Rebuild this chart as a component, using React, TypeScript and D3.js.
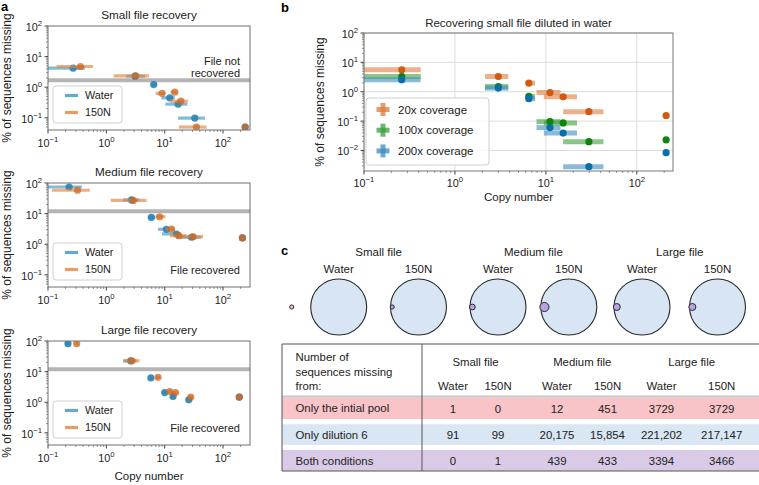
import React from 'react';
import * as d3 from 'd3';

const FONT = '"Liberation Sans", Arial, Helvetica, sans-serif';

// ---------- Panel a data ----------
const aTitles = ['Small file recovery', 'Medium file recovery', 'Large file recovery'];
const aThresholds = [1.7, 12, 12];
const aNotes = [['File not', 'recovered'], ['File recovered'], ['File recovered']];
const aLegend = ['Water', '150N'];

const smallWaterX = [0.27, 3.1, 6.5, 12.2, 17, 32.8, 240];
const smallWaterLo = [0.05, 2.2, 5.9, 8.8, 10.3, 17, 228];
const smallWaterHi = [0.43, 4.6, 7.3, 14.9, 24.5, 49, 252];
const smallWaterY = [4.2, 2.3, 1.22, 0.45, 0.28, 0.098, 0.05];
const smallSaltX = [0.36, 3.2, 9.0, 14.9, 18.9, 35, 240];
const smallSaltLo = [0.14, 1.34, 7.0, 12.6, 12.6, 17.5, 228];
const smallSaltHi = [0.59, 5.4, 10.3, 16.5, 25, 52, 252];
const smallSaltY = [4.75, 2.35, 0.63, 0.69, 0.35, 0.05, 0.05];

const medWaterX = [0.23, 2.7, 5.9, 10.7, 15.9, 28.8, 215];
const medWaterLo = [0.05, 1.93, 5.2, 7.7, 9.0, 15.8, 205];
const medWaterHi = [0.38, 3.7, 6.9, 12.3, 18.7, 42, 225];
const medWaterY = [74, 28, 7.5, 3.07, 2.16, 1.69, 1.6];
const medSaltX = [0.32, 2.9, 8.2, 13.1, 17.5, 30.7, 215];
const medSaltLo = [0.117, 1.19, 7.0, 10.4, 12.3, 18.2, 205];
const medSaltHi = [0.52, 4.9, 10.3, 14.9, 23.6, 45.6, 225];
const medSaltY = [58, 27, 7.9, 3.1, 1.9, 1.76, 1.6];

const largeWaterX = [0.22, 2.6, 5.8, 10, 13.9, 25.9, 190];
const largeWaterLo = [0.2, 1.93, 5.4, 9.2, 12.8, 23.5, 175];
const largeWaterHi = [0.24, 3.3, 6.2, 10.9, 15.0, 28.5, 205];
const largeWaterY = [82, 22.5, 6.2, 2.07, 1.54, 1.2, 1.47];
const largeSaltX = [0.31, 2.75, 7.7, 12.2, 15.3, 28, 190];
const largeSaltLo = [0.29, 2.0, 7.1, 11.3, 14.2, 25.5, 175];
const largeSaltHi = [0.33, 3.7, 8.3, 13.2, 16.5, 30.5, 205];
const largeSaltY = [82, 22.5, 6.5, 2.24, 2.07, 1.47, 1.47];

// ---------- Panel b data ----------
const bTitle = 'Recovering small file diluted in water';
const bLabels = ['20x coverage', '100x coverage', '200x coverage'];
const bCopyX = [0.26, 3.0, 6.5, 11.1, 15.5, 29.7, 210];
const bCopyLo = [0.08, 2.14, 6.0, 7.9, 9.5, 15.5, 203];
const bCopyHi = [0.42, 3.86, 7.6, 14.5, 22, 43, 217];
const b20x = [5.6, 3.3, 1.97, 0.94, 0.67, 0.21, 0.155];
const b100x = [3.3, 1.5, 0.69, 0.096, 0.087, 0.02, 0.023];
const b200x = [2.55, 1.33, 0.58, 0.06, 0.039, 0.0028, 0.0084];

// ---------- Panel c data ----------
const cFiles = ['Small file', 'Medium file', 'Large file'];
const cConds = ['Water', '150N', 'Water', '150N', 'Water', '150N'];
const cRowLabels = ['Only the intial pool', 'Only dilution 6', 'Both conditions'];
const cOnlyPool = ['1', '0', '12', '451', '3729', '3729'];
const cOnlyDil = ['91', '99', '20,175', '15,854', '221,202', '217,147'];
const cBoth = ['0', '1', '439', '433', '3394', '3466'];

// ---------- styles ----------
const WATER_BAR = '#3f95c2';
const WATER_DOT = '#2a84b3';
const SALT_BAR = '#e4843f';
const SALT_DOT = '#cf6520';
const B_DOT = ['#d05a12', '#0d850d', '#0a6eaa'];
const B_BAR = ['#e07b3c', '#3c9e3c', '#3a8ec0'];
const TICK_FS = 10.8;

function Pow10({ x, y, e, anchor, size = TICK_FS }: any) {
  const exp = e < 0 ? '\u2212' + Math.abs(e) : String(e);
  return (
    <text x={x} y={y} textAnchor={anchor} fontSize={size} fontFamily={FONT} fill="#222">
      10<tspan dy={-5} fontSize={size * 0.72}>{exp}</tspan>
    </text>
  );
}

function minorTicks(domain: number[]) {
  const out: number[] = [];
  for (let k = -4; k <= 3; k++) {
    for (let m = 2; m <= 9; m++) {
      const v = m * Math.pow(10, k);
      if (v > domain[0] && v < domain[1]) out.push(v);
    }
  }
  return out;
}

const aSets = [
  [
    { x: smallWaterX, lo: smallWaterLo, hi: smallWaterHi, y: smallWaterY },
    { x: smallSaltX, lo: smallSaltLo, hi: smallSaltHi, y: smallSaltY },
  ],
  [
    { x: medWaterX, lo: medWaterLo, hi: medWaterHi, y: medWaterY },
    { x: medSaltX, lo: medSaltLo, hi: medSaltHi, y: medSaltY },
  ],
  [
    { x: largeWaterX, lo: largeWaterLo, hi: largeWaterHi, y: largeWaterY },
    { x: largeSaltX, lo: largeSaltLo, hi: largeSaltHi, y: largeSaltY },
  ],
];

function PanelA({ idx, top, showX }: any) {
  const left = 48, right = 250, h = 104, bottom = top + h;
  const xd = [0.1, 290], yd = [0.04, 100];
  const x = d3.scaleLog().domain(xd).range([left, right]);
  const y = d3.scaleLog().domain(yd).range([bottom, top]);
  const clipId = 'clipA' + idx;
  const sets = aSets[idx];
  const barCol = [WATER_BAR, SALT_BAR];
  const dotCol = [WATER_DOT, SALT_DOT];
  const dotOp = [0.9, 0.75];
  const thrY = y(aThresholds[idx]);
  const notes = aNotes[idx];
  return (
    <g>
      <defs>
        <clipPath id={clipId}>
          <rect x={left} y={top} width={right - left} height={h} />
        </clipPath>
      </defs>
      <text x={(left + right) / 2} y={top - 7} textAnchor="middle" fontSize={11.7} fontFamily={FONT} fill="#222">
        {aTitles[idx]}
      </text>
      <text transform={`translate(11,${(top + bottom) / 2}) rotate(-90)`} textAnchor="middle" fontSize={12} fontFamily={FONT} fill="#222">
        % of sequences missing
      </text>
      <g clipPath={`url(#${clipId})`}>
        <line x1={left} x2={right} y1={thrY} y2={thrY} stroke="#b4b4b4" strokeWidth={4} />
        {sets.map((s, si) => (
          <g key={si}>
            {s.x.map((v, i) => (
              <line key={'b' + i} x1={x(s.lo[i])} x2={x(s.hi[i])} y1={y(s.y[i])} y2={y(s.y[i])}
                stroke={barCol[si]} strokeWidth={3.2} strokeOpacity={0.65} />
            ))}
            {s.x.map((v, i) => (
              <circle key={'d' + i} cx={x(v)} cy={y(s.y[i])} r={3.6} fill={dotCol[si]} fillOpacity={dotOp[si]} />
            ))}
          </g>
        ))}
      </g>
      {notes.length === 2 ? (
        <g>
          <text x={right - 10} y={thrY - 15} textAnchor="end" fontSize={11} fontFamily={FONT} fill="#222">{notes[0]}</text>
          <text x={right - 10} y={thrY - 3.5} textAnchor="end" fontSize={11} fontFamily={FONT} fill="#222">{notes[1]}</text>
        </g>
      ) : (
        <text x={right - 10} y={bottom - 13} textAnchor="end" fontSize={11} fontFamily={FONT} fill="#222">{notes[0]}</text>
      )}
      {/* legend */}
      <rect x={left + 5} y={bottom - 44} width={69} height={37} rx={3} fill="#fff" fillOpacity={0.85} stroke="#cfcfcf" strokeWidth={1} />
      {aLegend.map((t, i) => (
        <g key={t}>
          <line x1={left + 17} x2={left + 30} y1={bottom - 34.5 + i * 17} y2={bottom - 34.5 + i * 17} stroke={barCol[i]} strokeWidth={3.2} strokeOpacity={0.8} />
          <text x={left + 37} y={bottom - 30.8 + i * 17} fontSize={10.8} fontFamily={FONT} fill="#222">{t}</text>
        </g>
      ))}
      {/* frame */}
      <rect x={left} y={top} width={right - left} height={h} fill="none" stroke="#6e6e6e" strokeWidth={1} />
      {/* ticks */}
      {[-1, 0, 1, 2].map((e) => (
        <g key={'x' + e}>
          <line x1={x(Math.pow(10, e))} x2={x(Math.pow(10, e))} y1={bottom} y2={bottom + 3.5} stroke="#444" />
          <Pow10 x={x(Math.pow(10, e))} y={bottom + 17} e={e} anchor="middle" />
        </g>
      ))}
      {minorTicks(xd).map((v, i) => (
        <line key={'xm' + i} x1={x(v)} x2={x(v)} y1={bottom} y2={bottom + 2} stroke="#666" strokeWidth={0.7} />
      ))}
      {[-1, 0, 1, 2].map((e) => (
        <g key={'y' + e}>
          <line x1={left - 3.5} x2={left} y1={y(Math.pow(10, e))} y2={y(Math.pow(10, e))} stroke="#444" />
          <Pow10 x={left - 6} y={y(Math.pow(10, e)) + 5} e={e} anchor="end" />
        </g>
      ))}
      {minorTicks(yd).map((v, i) => (
        <line key={'ym' + i} x1={left - 2} x2={left} y1={y(v)} y2={y(v)} stroke="#666" strokeWidth={0.7} />
      ))}
      {showX && (
        <text x={(left + right) / 2} y={bottom + 35} textAnchor="middle" fontSize={11.5} fontFamily={FONT} fill="#222">Copy number</text>
      )}
    </g>
  );
}

function PanelB() {
  const left = 364, right = 673, top = 33, bottom = 171;
  const xd = [0.1, 250], yd = [0.002, 100];
  const x = d3.scaleLog().domain(xd).range([left, right]);
  const y = d3.scaleLog().domain(yd).range([bottom, top]);
  const series = [b20x, b100x, b200x];
  return (
    <g>
      <defs>
        <clipPath id="clipB">
          <rect x={left} y={top} width={right - left} height={bottom - top} />
        </clipPath>
      </defs>
      <text x={(left + right) / 2} y={27} textAnchor="middle" fontSize={11.5} fontFamily={FONT} fill="#222">{bTitle}</text>
      {[-1, 0, 1, 2].map((e) => (
        <line key={'gx' + e} x1={x(Math.pow(10, e))} x2={x(Math.pow(10, e))} y1={top} y2={bottom} stroke="#dcdcdc" strokeWidth={1} />
      ))}
      {[-2, -1, 0, 1, 2].map((e) => (
        <line key={'gy' + e} x1={left} x2={right} y1={y(Math.pow(10, e))} y2={y(Math.pow(10, e))} stroke="#dcdcdc" strokeWidth={1} />
      ))}
      <g clipPath="url(#clipB)">
        {series.map((s, si) => (
          <g key={si}>
            {s.map((v, i) => (
              <line key={'b' + i} x1={x(bCopyLo[i])} x2={x(bCopyHi[i])} y1={y(v)} y2={y(v)}
                stroke={B_BAR[si]} strokeWidth={5} strokeOpacity={0.6} />
            ))}
            {s.map((v, i) => (
              <circle key={'d' + i} cx={x(bCopyX[i])} cy={y(v)} r={3.6} fill={B_DOT[si]} />
            ))}
          </g>
        ))}
      </g>
      <rect x={left} y={top} width={right - left} height={bottom - top} fill="none" stroke="#777" strokeWidth={1} />
      {[-1, 0, 1, 2].map((e) => (
        <g key={'x' + e}>
          <line x1={x(Math.pow(10, e))} x2={x(Math.pow(10, e))} y1={bottom} y2={bottom + 3.5} stroke="#444" />
          <Pow10 x={x(Math.pow(10, e))} y={bottom + 16} e={e} anchor="middle" />
        </g>
      ))}
      {minorTicks(xd).map((v, i) => (
        <line key={'xm' + i} x1={x(v)} x2={x(v)} y1={bottom} y2={bottom + 2} stroke="#666" strokeWidth={0.7} />
      ))}
      {[-2, -1, 0, 1, 2].map((e) => (
        <g key={'y' + e}>
          <line x1={left - 3.5} x2={left} y1={y(Math.pow(10, e))} y2={y(Math.pow(10, e))} stroke="#444" />
          <Pow10 x={left - 6} y={y(Math.pow(10, e)) + 5} e={e} anchor="end" />
        </g>
      ))}
      {minorTicks(yd).map((v, i) => (
        <line key={'ym' + i} x1={left - 2} x2={left} y1={y(v)} y2={y(v)} stroke="#666" strokeWidth={0.7} />
      ))}
      <text x={(left + right) / 2} y={201} textAnchor="middle" fontSize={11.5} fontFamily={FONT} fill="#222">Copy number</text>
      <text transform={`translate(324,${(top + bottom) / 2}) rotate(-90)`} textAnchor="middle" fontSize={12} fontFamily={FONT} fill="#222">
        % of sequences missing
      </text>
      {/* legend */}
      <rect x={366} y={98} width={123} height={67} rx={3} fill="#fff" fillOpacity={0.85} stroke="#cfcfcf" />
      {bLabels.map((t, i) => {
        const cy = 109.5 + i * 20.7;
        return (
          <g key={t}>
            <line x1={376.5} x2={389.5} y1={cy} y2={cy} stroke={B_BAR[i]} strokeWidth={5} strokeOpacity={0.75} />
            <line x1={383} x2={383} y1={cy - 6.5} y2={cy + 6.5} stroke={B_BAR[i]} strokeWidth={5} strokeOpacity={0.75} />
            <text x={398} y={cy + 4} fontSize={11.5} fontFamily={FONT} fill="#222">{t}</text>
          </g>
        );
      })}
    </g>
  );
}

function PanelC() {
  const circX = [338.7, 418.5, 498, 568.8, 642, 717.5];
  const circY = 307;
  const R = 28;
  const colX = [453, 498, 557, 607.5, 661.5, 721.7];
  const tLeft = 282, tRight = 759, tTop = 344, tBottom = 471, divX = 422;
  const rows = [cOnlyPool, cOnlyDil, cBoth];
  const rowFill = ['#f9c4c8', '#d9e6f3', '#d9cbe7'];
  const rowTop = [397.5, 424.3, 450];
  const rowBot = [419, 445, 471];
  const num = (s: string) => +s.replace(/,/g, '');
  const FS = 11.4;
  return (
    <g fontFamily={FONT} fill="#222">
      {cFiles.map((f, i) => (
        <text key={f} x={(circX[2 * i] + circX[2 * i + 1]) / 2} y={255.5} textAnchor="middle" fontSize={11.5}>{f}</text>
      ))}
      {cConds.map((c, i) => (
        <text key={'c' + i} x={circX[i]} y={273} textAnchor="middle" fontSize={11.5}>{c}</text>
      ))}
      {circX.map((cx, i) => {
        const pool = num(cOnlyPool[i]) + num(cBoth[i]);
        const dil = num(cOnlyDil[i]) + num(cBoth[i]);
        const r = Math.max(2.1, R * Math.sqrt(pool / dil) * 0.7);
        const disjoint = num(cBoth[i]) === 0;
        const scx = disjoint ? cx - R - 19 : cx - R + r * 0.8;
        return (
          <g key={'v' + i}>
            <circle cx={cx} cy={circY} r={R} fill="#d7e5f4" stroke="#2a2a2a" strokeWidth={1.1} />
            <circle cx={scx} cy={circY} r={r} fill={disjoint ? '#f2c3c6' : '#b7a3df'} stroke="#2a2a2a" strokeWidth={1} />
          </g>
        );
      })}
      {/* table */}
      {rows.map((_, ri) => (
        <rect key={'rf' + ri} x={tLeft} y={rowTop[ri]} width={tRight - tLeft} height={rowBot[ri] - rowTop[ri]} fill={rowFill[ri]} />
      ))}
      <line x1={tLeft} x2={tRight} y1={396.5} y2={396.5} stroke="#c8c8c8" strokeWidth={2} />
      <line x1={tLeft} x2={tRight} y1={tTop} y2={tTop} stroke="#555" strokeWidth={1} />
      <line x1={tLeft} x2={tRight} y1={tBottom} y2={tBottom} stroke="#555" strokeWidth={1} />
      <line x1={tLeft} x2={tLeft} y1={tTop} y2={tBottom} stroke="#555" strokeWidth={1} />
      <line x1={divX} x2={divX} y1={tTop} y2={tBottom} stroke="#555" strokeWidth={1} />
      <text x={295.5} y={361} fontSize={FS}>Number of</text>
      <text x={295.5} y={375.5} fontSize={FS}>sequences missing</text>
      <text x={295.5} y={389.5} fontSize={FS}>from:</text>
      {cFiles.map((f, i) => (
        <text key={'h' + f} x={(colX[2 * i] + colX[2 * i + 1]) / 2} y={365.5} textAnchor="middle" fontSize={FS}>{f}</text>
      ))}
      {cConds.map((c, i) => (
        <text key={'hc' + i} x={colX[i]} y={389.5} textAnchor="middle" fontSize={FS}>{c}</text>
      ))}
      {rows.map((r, ri) => {
        const cy = (rowTop[ri] + rowBot[ri]) / 2;
        return (
          <g key={'r' + ri}>
            <text x={295.5} y={cy + 4} fontSize={FS}>{cRowLabels[ri]}</text>
            {r.map((v, ci) => (
              <text key={ci} x={colX[ci]} y={cy + 4.5} textAnchor="middle" fontSize={FS}>{v}</text>
            ))}
          </g>
        );
      })}
    </g>
  );
}

export default function App() {
  return (
    <svg width={759} height={485} style={{ position: 'absolute', left: 0, top: 0, background: '#fff' }}>
      <rect x={0} y={0} width={759} height={485} fill="#fff" />
      <text x={1} y={11} fontSize={13} fontWeight="bold" fontFamily={FONT}>a</text>
      <text x={281} y={12} fontSize={13} fontWeight="bold" fontFamily={FONT}>b</text>
      <text x={281} y={255} fontSize={13} fontWeight="bold" fontFamily={FONT}>c</text>
      <PanelA idx={0} top={26} showX={false} />
      <PanelA idx={1} top={183} showX={false} />
      <PanelA idx={2} top={341} showX={true} />
      <PanelB />
      <PanelC />
    </svg>
  );
}
